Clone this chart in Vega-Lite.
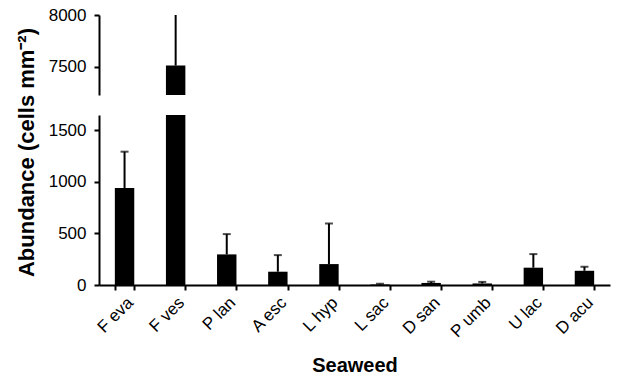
{
  "$schema": "https://vega.github.io/schema/vega-lite/v6.json",
  "padding": {"left": 15, "top": 6, "right": 5, "bottom": 5},
  "bounds": "flush",
  "config": {
    "view": {"stroke": null},
    "font": "Liberation Sans",
    "axis": {
      "domainColor": "black", "domainWidth": 2,
      "tickColor": "black", "tickWidth": 2, "tickSize": 5,
      "labelColor": "black", "labelFontSize": 17, "labelFont": "Liberation Sans",
      "titleColor": "black", "titleFontWeight": "bold", "titleFontSize": 20, "titleFont": "Liberation Sans",
      "grid": false
    }
  },
  "data": {
    "values": [
      {"seaweed": "F eva", "mean": 942, "upper": 1294},
      {"seaweed": "F ves", "mean": 7510, "upper": 8060},
      {"seaweed": "P lan", "mean": 297, "upper": 494},
      {"seaweed": "A esc", "mean": 129, "upper": 290},
      {"seaweed": "L hyp", "mean": 203, "upper": 597},
      {"seaweed": "L sac", "mean": 5, "upper": 12},
      {"seaweed": "D san", "mean": 20, "upper": 32},
      {"seaweed": "P umb", "mean": 15, "upper": 30},
      {"seaweed": "U lac", "mean": 168, "upper": 300},
      {"seaweed": "D acu", "mean": 138, "upper": 177}
    ]
  },
  "spacing": 20,
  "vconcat": [
    {
      "width": 511,
      "height": 80,
      "encoding": {
        "x": {"field": "seaweed", "type": "nominal", "sort": null,
              "scale": {"paddingInner": 0.62, "paddingOuter": 0.31},
              "axis": null}
      },
      "layer": [
        {"mark": {"type": "bar", "color": "black", "clip": true},
         "encoding": {"y": {"field": "mean", "type": "quantitative",
           "scale": {"domain": [7225, 8000], "zero": false, "nice": false},
           "axis": {"values": [7500, 8000], "format": "d", "title": null, "labelPadding": 8}}}},
        {"mark": {"type": "rule", "color": "black", "strokeWidth": 2, "clip": true},
         "encoding": {"y": {"field": "mean", "type": "quantitative"}, "y2": {"field": "upper"}}},
        {"mark": {"type": "tick", "color": "black", "size": 8, "thickness": 2, "clip": true},
         "encoding": {"y": {"field": "upper", "type": "quantitative"}}}
      ]
    },
    {
      "width": 511,
      "height": 170,
      "encoding": {
        "x": {"field": "seaweed", "type": "nominal", "sort": null,
              "scale": {"paddingInner": 0.62, "paddingOuter": 0.31},
              "axis": {"title": "Seaweed", "labelAngle": -45, "tickBand": "extent", "labelPadding": 4, "titlePadding": 15}}
      },
      "layer": [
        {"mark": {"type": "bar", "color": "black", "clip": true},
         "encoding": {"y": {"field": "mean", "type": "quantitative",
           "scale": {"domain": [0, 1650], "nice": false},
           "axis": {"values": [0, 500, 1000, 1500], "format": "d", "title": "Abundance (cells mm⁻²)", "titleFontSize": 22, "labelPadding": 8, "titleY": 37, "titlePadding": 10}}}},
        {"mark": {"type": "rule", "color": "black", "strokeWidth": 2, "clip": true},
         "encoding": {"y": {"field": "mean", "type": "quantitative"}, "y2": {"field": "upper"}}},
        {"mark": {"type": "tick", "color": "black", "size": 8, "thickness": 2, "clip": true},
         "encoding": {"y": {"field": "upper", "type": "quantitative"}}}
      ]
    }
  ]
}
